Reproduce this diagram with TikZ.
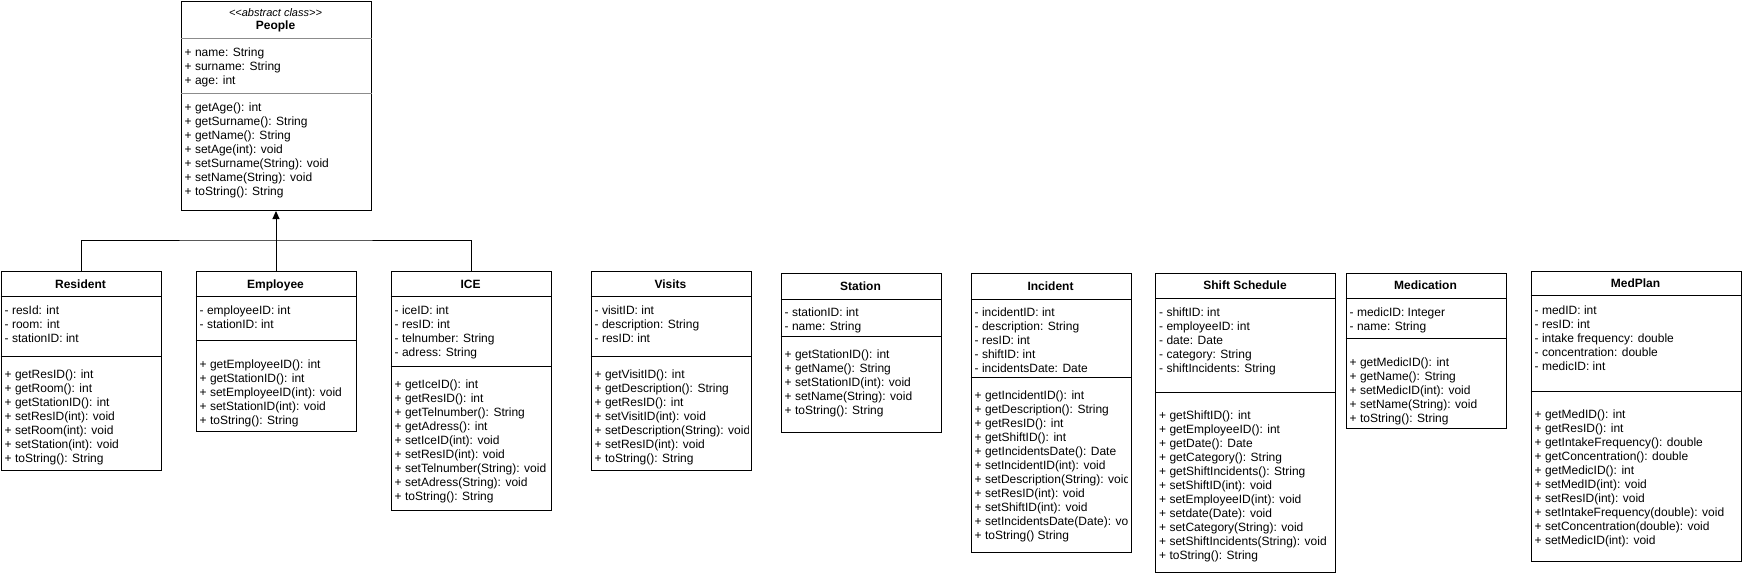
\documentclass[tikz,border=0pt]{standalone}
\usepackage{fontspec}
\setmainfont{Liberation Sans}
\usetikzlibrary{arrows.meta}

\begin{document}
\begin{tikzpicture}[x=1pt, y=-1pt,
    every node/.style={font=\fontsize{12}{14}\selectfont},
    cls/.style={draw, line width=1pt, anchor=north west, inner sep=0pt},
    ttl/.style={font=\fontsize{12}{14}\selectfont\bfseries, anchor=base, inner sep=0pt},
    stereo/.style={font=\fontsize{11}{14}\selectfont\itshape, anchor=base, inner sep=0pt},
    mem/.style={align=left, anchor=north west, inner sep=0pt},
    sep/.style={line width=1pt},
    psep/.style={line width=1pt, black!45},
    lnk/.style={line width=1pt},
    gen/.style={lnk, -{Triangle[length=8pt, width=7pt]}},
  ]
  \useasboundingbox (0,0) rectangle (1742,576);

  % abstract parent
  \node[cls, minimum width=190, minimum height=209.5] (people) at (180.5,0.5) {};
  \node[stereo] (people-s) at (275.5,16) {<{}<abstract class>{}>};
  \node[ttl] (people-t) at (275.5,29.3) {People};
  \draw[psep] (people.west |- 0,38) -- (people.east |- 0,38);
  \draw[psep] (people.west |- 0,93) -- (people.east |- 0,93);
  \node[mem] (people-a) at (184.5,47.3) {+ name: String\\+ surname: String\\+ age: int};
  \node[mem] (people-m) at (184.5,102.3) {+ getAge(): int\\+ getSurname(): String\\+ getName(): String\\+ setAge(int): void\\+ setSurname(String): void\\+ setName(String): void\\+ toString(): String};

  % subclasses
  \node[cls, minimum width=160, minimum height=199.5] (resident) at (0.5,270.5) {};
  \node[ttl] (resident-t) at (80.5,288.3) {Resident};
  \draw[sep] (resident.west |- 0,296) -- (resident.east |- 0,296);
  \draw[sep] (resident.west |- 0,356) -- (resident.east |- 0,356);
  \node[mem] (resident-a) at (4.5,305.3) {- resId: int\\- room: int\\- stationID: int};
  \node[mem] (resident-m) at (4.5,369.3) {+ getResID(): int\\+ getRoom(): int\\+ getStationID(): int\\+ setResID(int): void\\+ setRoom(int): void\\+ setStation(int): void\\+ toString(): String};

  \node[cls, minimum width=160, minimum height=160] (employee) at (195.5,270.5) {};
  \node[ttl] (employee-t) at (275.5,288.3) {Employee};
  \draw[sep] (employee.west |- 0,296) -- (employee.east |- 0,296);
  \draw[sep] (employee.west |- 0,340) -- (employee.east |- 0,340);
  \node[mem] (employee-a) at (199.5,305.3) {- employeeID: int\\- stationID: int};
  \node[mem] (employee-m) at (199.5,359.3) {+ getEmployeeID(): int\\+ getStationID(): int\\+ setEmployeeID(int): void\\+ setStationID(int): void\\+ toString(): String};

  \node[cls, minimum width=160, minimum height=239.5] (ice) at (390.5,270.5) {};
  \node[ttl] (ice-t) at (470.5,288.3) {ICE};
  \draw[sep] (ice.west |- 0,296) -- (ice.east |- 0,296);
  \draw[sep] (ice.west |- 0,366) -- (ice.east |- 0,366);
  \node[mem] (ice-a) at (394.5,305.3) {- iceID: int\\- resID: int\\- telnumber: String\\- adress: String};
  \node[mem] (ice-m) at (394.5,379.3) {+ getIceID(): int\\+ getResID(): int\\+ getTelnumber(): String\\+ getAdress(): int\\+ setIceID(int): void\\+ setResID(int): void\\+ setTelnumber(String): void\\+ setAdress(String): void\\+ toString(): String};

  % inheritance
  \coordinate (bus) at (275.5,240);
  \draw[lnk] (resident.north) |- (bus) -| (ice.north);
  \draw[gen] (employee.north) -- (people.south);

  % other classes
  \node[cls, minimum width=160, minimum height=199.5] (visits) at (590.5,270.5) {};
  \node[ttl] (visits-t) at (670.5,288.3) {Visits};
  \draw[sep] (visits.west |- 0,296) -- (visits.east |- 0,296);
  \draw[sep] (visits.west |- 0,356) -- (visits.east |- 0,356);
  \begin{scope}
    \clip (590.5,270.5) rectangle (748.5,470);
    \node[mem] (visits-a) at (594.5,305.3) {- visitID: int\\- description: String\\- resID: int};
    \node[mem] (visits-m) at (594.5,369.3) {+ getVisitID(): int\\+ getDescription(): String\\+ getResID(): int\\+ setVisitID(int): void\\+ setDescription(String): void\\+ setResID(int): void\\+ toString(): String};
  \end{scope}

  \node[cls, minimum width=160, minimum height=159] (station) at (780.5,272.5) {};
  \node[ttl] (station-t) at (860.5,290.3) {Station};
  \draw[sep] (station.west |- 0,299) -- (station.east |- 0,299);
  \draw[sep] (station.west |- 0,336) -- (station.east |- 0,336);
  \node[mem] (station-a) at (784.5,307.3) {- stationID: int\\- name: String};
  \node[mem] (station-m) at (784.5,349.3) {+ getStationID(): int\\+ getName(): String\\+ setStationID(int): void\\+ setName(String): void\\+ toString(): String};

  \node[cls, minimum width=160, minimum height=279.5] (incident) at (970.5,272.5) {};
  \node[ttl] (incident-t) at (1050.5,290.3) {Incident};
  \draw[sep] (incident.west |- 0,299) -- (incident.east |- 0,299);
  \draw[sep] (incident.west |- 0,377) -- (incident.east |- 0,377);
  \begin{scope}
    \clip (970.5,272.5) rectangle (1127,552);
    \node[mem] (incident-a) at (974.5,307.3) {- incidentID: int\\- description: String\\- resID: int\\- shiftID: int\\- incidentsDate: Date};
    \node[mem] (incident-m) at (974.5,390.3) {+ getIncidentID(): int\\+ getDescription(): String\\+ getResID(): int\\+ getShiftID(): int\\+ getIncidentsDate(): Date\\+ setIncidentID(int): void\\+ setDescription(String): void\\+ setResID(int): void\\+ setShiftID(int): void\\+ setIncidentsDate(Date): void\\+ toString() String};
  \end{scope}

  \node[cls, minimum width=180, minimum height=299] (shift) at (1155,272.5) {};
  \node[ttl] (shift-t) at (1245,289.8) {Shift Schedule};
  \draw[sep] (shift.west |- 0,298) -- (shift.east |- 0,298);
  \draw[sep] (shift.west |- 0,392) -- (shift.east |- 0,392);
  \node[mem] (shift-a) at (1159,307.3) {- shiftID: int\\- employeeID: int\\- date: Date\\- category: String\\- shiftIncidents: String};
  \node[mem] (shift-m) at (1159,410.3) {+ getShiftID(): int\\+ getEmployeeID(): int\\+ getDate(): Date\\+ getCategory(): String\\+ getShiftIncidents(): String\\+ setShiftID(int): void\\+ setEmployeeID(int): void\\+ setdate(Date): void\\+ setCategory(String): void\\+ setShiftIncidents(String): void\\+ toString(): String};

  \node[cls, minimum width=160, minimum height=155.5] (medication) at (1345.5,272.5) {};
  \node[ttl] (medication-t) at (1425.5,289.8) {Medication};
  \draw[sep] (medication.west |- 0,298) -- (medication.east |- 0,298);
  \draw[sep] (medication.west |- 0,338) -- (medication.east |- 0,338);
  \node[mem] (medication-a) at (1349.5,307.3) {- medicID: Integer\\- name: String};
  \node[mem] (medication-m) at (1349.5,357.3) {+ getMedicID(): int\\+ getName(): String\\+ setMedicID(int): void\\+ setName(String): void\\+ toString(): String};

  \node[cls, minimum width=210, minimum height=290] (medplan) at (1530.5,270.5) {};
  \node[ttl] (medplan-t) at (1635.5,287.6) {MedPlan};
  \draw[sep] (medplan.west |- 0,295) -- (medplan.east |- 0,295);
  \draw[sep] (medplan.west |- 0,391) -- (medplan.east |- 0,391);
  \node[mem] (medplan-a) at (1534.5,305.3) {- medID: int\\- resID: int\\- intake frequency: double\\- concentration: double\\- medicID: int};
  \node[mem] (medplan-m) at (1534.5,409.3) {+ getMedID(): int\\+ getResID(): int\\+ getIntakeFrequency(): double\\+ getConcentration(): double\\+ getMedicID(): int\\+ setMedID(int): void\\+ setResID(int): void\\+ setIntakeFrequency(double): void\\+ setConcentration(double): void\\+ setMedicID(int): void};
\end{tikzpicture}
\end{document}
